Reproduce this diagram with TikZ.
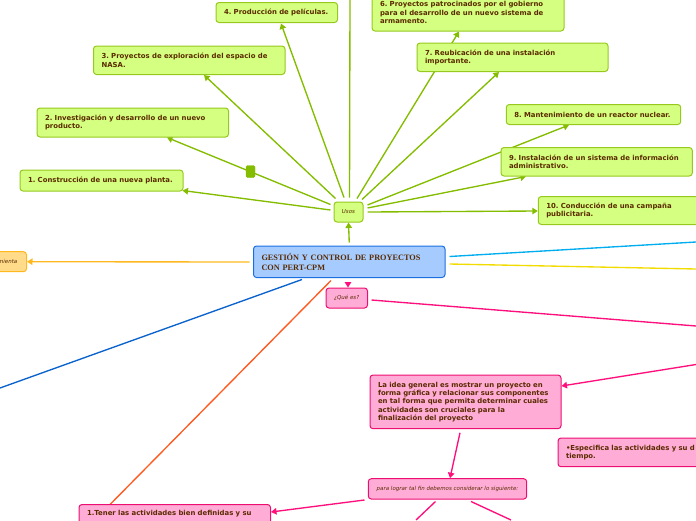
\documentclass[tikz,border=0pt]{standalone}
\usepackage{fontspec}
\setmainfont{DejaVu Sans}
\newfontfamily\titlefont{Liberation Serif}
\usetikzlibrary{arrows.meta,backgrounds}
\definecolor{gfill}{HTML}{D4FF80}
\definecolor{gline}{HTML}{84BD00}
\definecolor{gedge}{HTML}{97C81E}
\definecolor{pfill}{HTML}{FFADD6}
\definecolor{pline}{HTML}{FF0F7B}
\definecolor{ofill}{HTML}{FFDB8A}
\definecolor{oline}{HTML}{FFB81F}
\definecolor{bfill}{HTML}{A6CCFF}
\definecolor{bline}{HTML}{1A6FE0}
\definecolor{txtc}{HTML}{5A2A00}
\definecolor{cyanl}{HTML}{00AEEF}
\definecolor{yell}{HTML}{F2DC00}
\definecolor{dblue}{HTML}{0A63CC}
\definecolor{redor}{HTML}{FF5A1F}
\frenchspacing
\tikzset{
  box/.style={rounded corners=3pt,line width=1pt,inner sep=0pt,align=left,text=txtc,
    font=\fontsize{6.9}{8.3}\selectfont\bfseries},
  green/.style={box,draw=gedge,fill=gfill},
  pink/.style={box,draw=pline!93!black,fill=pfill},
  small/.style={font=\fontsize{5.5}{6.5}\selectfont\itshape,align=center},
  link/.style={line width=1.35pt,-{Triangle[width=6.5pt,length=5.5pt]}},
  plain/.style={line width=1.35pt},
}
\newcommand{\bx}[7]{% style, name, cx, cy, w, h, text
  \node[#1,minimum width=#5pt,minimum height=#6pt,text width=#5pt-16pt] (#2) at (#3,#4) {#7};}
\begin{document}
\begin{tikzpicture}[x=1pt,y=-1pt]
\useasboundingbox (0,0) rectangle (696,520);
% free ends at the picture's edge
\coordinate (topgreen) at (350,0);
\coordinate (edgecyan) at (696,242);
\coordinate (edgeyellow) at (696,269);
\coordinate (edgepinkA) at (696,326);
\coordinate (edgepinkB) at (696,364.5);
\coordinate (edgeblue) at (0,388);
\coordinate (downA) at (416,520);
\coordinate (downB) at (511,520);
% nodes
\bx{green}{n1}{101.5}{180.5}{163}{21}{1. Construcción de una nueva planta.}
\bx{green}{n2}{132.75}{122.5}{191.5}{29}{2. Investigación y desarrollo de un nuevo\\producto.}
\bx{green}{n3}{189.25}{60.25}{191.5}{28.5}{3. Proyectos de exploración del espacio de\\NASA.}
\bx{green}{n4}{276.75}{12.5}{121.5}{20}{4. Producción de películas.}
\bx{green}{n6}{468}{12.5}{192}{37}{6. Proyectos patrocinados por el gobierno\\para el desarrollo de un nuevo sistema de\\armamento.}
\bx{green}{n7}{512.5}{57.25}{191}{28.5}{7. Reubicación de una instalación\\importante.}
\bx{green}{n8}{593.5}{114.5}{174.4}{20}{8. Mantenimiento de un reactor nuclear.}
\bx{green}{n9}{596.65}{161.75}{191.3}{28.5}{9. Instalación de un sistema de información\\administrativo.}
\bx{green}{n10}{634}{210.5}{191.4}{28}{10. Conducción de una campaña\\publicitaria.}
\node[green,small,minimum width=29pt,minimum height=20pt] (usos) at (348.5,212) {Usos};
\node[draw=gline,fill=gline,rounded corners=1.5pt,minimum width=9pt,minimum height=12pt,inner sep=0pt] (knob) at (250.5,171.5) {};
\node[rounded corners=3pt,line width=1pt,draw=bline,fill=bfill,inner sep=0pt,minimum width=191.5pt,minimum height=31.5pt,text width=175.5pt,align=left,text=txtc,font=\titlefont\fontsize{8.25}{10}\selectfont\bfseries] (title) at (349.25,261.75) {GESTIÓN Y CONTROL DE PROYECTOS\\CON PERT-CPM};
\node[pink,small,minimum width=41.5pt,minimum height=20pt] (que) at (346.75,298) {¿Qué es?};
\node[box,draw=oline,fill=ofill,small,minimum width=53pt,minimum height=20pt] (herr) at (0,261.7) {Herramienta};
\bx{pink}{idea}{465.5}{401.85}{191}{53.7}{La idea general es mostrar un proyecto en\\forma gráfica y relacionar sus componentes\\en tal forma que permita determinar cuales\\actividades son cruciales para la\\finalización del proyecto}
\bx{pink}{espec}{658}{452.35}{200}{28.7}{•Especifica las actividades y su d\\tiempo.}
\node[pink,small,minimum width=158.4pt,minimum height=20.3pt] (para) at (447.5,488.85) {para lograr tal fin debemos considerar lo siguiente:};
\bx{pink}{tener}{174.75}{518.75}{191.5}{28.5}{1.Tener las actividades bien definidas y su\\\strut}
% connectors
\begin{scope}[on background layer]
\draw[link,gline] ([shift={(-3,-2)}]usos.west) -- ([shift={(-1,-1)}]n1.south east);
\draw[link,gline] ([shift={(-3,-7.5)}]usos.west) -- ([shift={(34.25,0)}]n2.south);
\draw[link,gline] ([shift={(2,-3)}]usos.north west) -- ([shift={(14.75,0)}]n3.south);
\draw[link,gline] ([shift={(-4.5,-4)}]usos.north) -- ([shift={(4.25,0.5)}]n4.south);
\draw[plain,draw=gline] ([shift={(1,-4)}]usos.north) -- (topgreen);
\draw[link,gline] ([shift={(8.5,-3)}]usos.north) -- ([shift={(-9,0)}]n6.south);
\draw[link,gline] ([shift={(13.5,-2)}]usos.north) -- ([shift={(-13.5,0)}]n7.south);
\draw[link,gline] ([shift={(4,-7)}]usos.east) -- ([shift={(-24.5,0)}]n8.south);
\draw[link,gline] ([shift={(4,-4)}]usos.east) -- ([shift={(-70.65,0)}]n9.south);
\draw[link,gline] ([shift={(4,0)}]usos.east) -- ([shift={(0,0.5)}]n10.west);
\draw[link,gline] ([shift={(0,-3)}]title.north) -- (usos.south);
\draw[plain,cyanl] ([shift={(4,-5.25)}]title.east) -- (edgecyan);
\draw[plain,yell] ([shift={(4,2.25)}]title.east) -- (edgeyellow);
\draw[link,oline] ([shift={(-3.5,0.25)}]title.west) -- (herr.east);
\draw[plain,dblue] ([shift={(-47.25,1.5)}]title.south) -- (edgeblue);
\draw[plain,redor] ([shift={(-18.25,2.5)}]title.south) -- ([shift={(-64.75,0.5)}]tener.north);
\draw[link,pline] ([shift={(-1.25,3.5)}]title.south) -- ([shift={(1.25,0)}]que.north);
\draw[plain,pline] ([shift={(3.5,2)}]que.east) -- (edgepinkA);
\draw[link,pline] (edgepinkB) -- ([shift={(0,-15.85)}]idea.east);
\draw[link,pline] ([shift={(-5.5,3.5)}]idea.south) -- ([shift={(2.5,0)}]para.north);
\draw[link,pline] ([shift={(-3.3,0.5)}]para.south west) -- ([shift={(0,-6.75)}]tener.east);
\draw[plain,pline] ([shift={(-12,2)}]para.south) -- (downA);
\draw[plain,pline] ([shift={(23.5,2)}]para.south) -- (downB);
\end{scope}
\end{tikzpicture}
\end{document}
